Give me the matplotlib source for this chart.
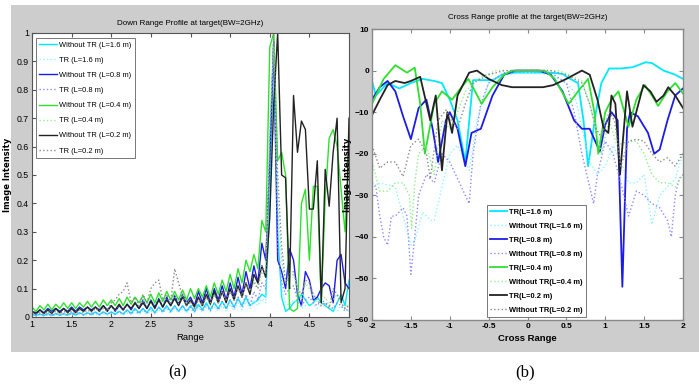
import numpy as np
import matplotlib
matplotlib.use("Agg")
import matplotlib.pyplot as plt
from matplotlib import font_manager
from matplotlib.patches import Rectangle

names = {f.name for f in font_manager.fontManager.ttflist}
NARROW = "Liberation Sans Narrow" if "Liberation Sans Narrow" in names else "Liberation Sans"
plt.rcParams['font.family'] = [NARROW, 'DejaVu Sans']

# ---------------- (a) Down range profile ----------------
range_x = np.round(np.arange(1.0, 5.0001, 0.05), 2)

wo_tr_16 = [0.010,0.005,0.010,0.005,0.012,0.005,0.012,0.006,0.012,0.006,0.015,0.006,0.015,0.008,0.015,0.008,0.018,0.008,0.018,0.010,
            0.018,0.010,0.020,0.010,0.025,0.012,0.030,0.015,0.030,0.015,0.035,0.015,0.035,0.020,0.040,0.020,0.040,0.020,0.040,0.020,
            0.040,0.020,0.045,0.025,0.050,0.025,0.050,0.030,0.055,0.030,0.060,0.035,0.065,0.040,0.070,0.040,0.050,0.060,0.080,0.070,
            0.400,0.970,0.300,0.070,0.020,0.030,0.050,0.060,0.080,0.060,0.040,0.050,0.070,0.050,0.040,0.030,0.020,0.050,0.080,0.040,0.130]
tr_16 = [0.005,0.003,0.006,0.003,0.006,0.003,0.007,0.004,0.007,0.004,0.008,0.004,0.008,0.005,0.009,0.005,0.010,0.005,0.010,0.006,
         0.012,0.006,0.013,0.007,0.015,0.008,0.017,0.009,0.020,0.010,0.022,0.010,0.025,0.012,0.027,0.013,0.030,0.015,0.030,0.015,
         0.030,0.015,0.032,0.016,0.035,0.018,0.038,0.020,0.040,0.020,0.045,0.022,0.050,0.025,0.055,0.030,0.060,0.040,0.065,0.050,
         0.500,0.950,0.350,0.100,0.050,0.040,0.060,0.050,0.030,0.040,0.050,0.045,0.030,0.040,0.050,0.035,0.030,0.020,0.040,0.030,0.020]
wo_tr_08 = [0.020,0.015,0.025,0.015,0.030,0.020,0.030,0.020,0.030,0.020,0.035,0.020,0.035,0.025,0.035,0.025,0.035,0.025,0.040,0.025,
            0.040,0.020,0.040,0.025,0.045,0.025,0.050,0.030,0.060,0.030,0.060,0.035,0.065,0.035,0.070,0.040,0.075,0.045,0.080,0.050,
            0.070,0.040,0.090,0.050,0.100,0.050,0.100,0.060,0.110,0.060,0.120,0.070,0.140,0.080,0.160,0.100,0.180,0.120,0.260,0.200,
            0.550,0.970,0.200,0.160,0.100,0.240,0.200,0.080,0.040,0.160,0.130,0.060,0.070,0.100,0.120,0.110,0.050,0.200,0.220,0.120,0.100]
tr_08 = [0.008,0.004,0.010,0.005,0.010,0.005,0.012,0.006,0.012,0.006,0.013,0.007,0.014,0.007,0.015,0.008,0.016,0.008,0.017,0.009,
         0.018,0.009,0.020,0.010,0.022,0.011,0.025,0.012,0.028,0.013,0.030,0.015,0.033,0.016,0.035,0.018,0.038,0.020,0.040,0.020,
         0.035,0.018,0.040,0.020,0.045,0.022,0.050,0.025,0.055,0.028,0.060,0.030,0.070,0.035,0.080,0.040,0.090,0.060,0.120,0.100,
         0.600,0.950,0.250,0.120,0.080,0.100,0.110,0.060,0.040,0.060,0.070,0.050,0.040,0.060,0.050,0.040,0.030,0.050,0.040,0.020,0.030]
wo_tr_04 = [0.035,0.020,0.040,0.025,0.045,0.025,0.045,0.030,0.050,0.030,0.050,0.030,0.050,0.035,0.055,0.035,0.055,0.035,0.060,0.040,
            0.060,0.040,0.065,0.040,0.070,0.045,0.070,0.050,0.075,0.050,0.080,0.050,0.085,0.055,0.090,0.060,0.090,0.060,0.095,0.060,
            0.100,0.065,0.100,0.070,0.110,0.070,0.120,0.080,0.130,0.090,0.150,0.100,0.170,0.120,0.200,0.160,0.220,0.170,0.340,0.300,
            0.950,1.000,0.550,0.580,0.500,0.030,0.020,0.030,0.400,0.450,0.200,0.460,0.460,0.050,0.420,0.630,0.660,0.600,0.450,0.300,0.600]
tr_04 = [0.020,0.010,0.020,0.010,0.025,0.012,0.025,0.012,0.030,0.015,0.030,0.015,0.030,0.015,0.035,0.020,0.035,0.020,0.040,0.020,
         0.040,0.020,0.045,0.025,0.050,0.030,0.055,0.030,0.060,0.035,0.070,0.040,0.075,0.040,0.080,0.040,0.080,0.045,0.085,0.050,
         0.060,0.030,0.065,0.035,0.070,0.040,0.080,0.050,0.090,0.050,0.100,0.060,0.110,0.070,0.120,0.080,0.130,0.100,0.160,0.140,
         0.700,0.950,0.400,0.200,0.120,0.140,0.150,0.100,0.060,0.120,0.100,0.070,0.050,0.060,0.070,0.040,0.060,0.080,0.050,0.030,0.050]
wo_tr_02 = [0.020,0.010,0.025,0.012,0.025,0.012,0.030,0.015,0.030,0.015,0.030,0.015,0.030,0.020,0.035,0.020,0.035,0.020,0.040,0.020,
            0.040,0.025,0.045,0.025,0.045,0.030,0.050,0.030,0.050,0.030,0.055,0.030,0.060,0.035,0.060,0.040,0.065,0.040,0.070,0.040,
            0.060,0.035,0.070,0.040,0.080,0.045,0.090,0.050,0.090,0.050,0.100,0.060,0.110,0.070,0.120,0.080,0.150,0.120,0.180,0.140,
            0.350,0.750,1.000,0.500,0.490,0.100,0.780,0.580,0.690,0.660,0.380,0.380,0.550,0.050,0.520,0.390,0.580,0.700,0.050,0.100,0.700]
tr_02 = [0.015,0.010,0.015,0.010,0.020,0.010,0.020,0.012,0.020,0.012,0.020,0.012,0.025,0.015,0.025,0.015,0.030,0.020,0.030,0.020,
         0.050,0.060,0.080,0.090,0.120,0.050,0.070,0.040,0.080,0.050,0.100,0.120,0.130,0.060,0.080,0.050,0.170,0.120,0.070,0.040,
         0.050,0.030,0.060,0.040,0.070,0.050,0.080,0.050,0.090,0.060,0.090,0.060,0.100,0.070,0.120,0.090,0.120,0.100,0.180,0.150,
         0.600,1.000,0.500,0.250,0.120,0.150,0.160,0.100,0.080,0.130,0.120,0.080,0.060,0.040,0.050,0.030,0.100,0.080,0.050,0.030,0.040]

labels_a = ["Without TR (L=1.6 m)", "TR (L=1.6 m)", "Without TR (L=0.8 m)", "TR (L=0.8 m)",
            "Without TR (L=0.4 m)", "TR (L=0.4 m)", "Without TR (L=0.2 m)", "TR (L=0.2 m)"]

# ---------------- (b) Cross range profile ----------------
cr_tr16_x = [-2,-1.95,-1.8,-1.65,-1.5,-1.35,-1.2,-1.1,-1.0,-0.9,-0.8,-0.7,-0.6,-0.45,-0.3,-0.15,0,0.15,0.3,0.45,0.55,0.65,0.72,0.78,0.88,0.95,1.05,1.2,1.35,1.52,1.6,1.75,1.9,2.0]
cr_tr16_y = [-2.5,-6,-3,-4.3,-3,-2,-2.5,-3,-7,-12,-22,-2.3,-2.3,-2.3,-0.8,-0.5,-0.5,-0.5,-0.5,-0.8,-2,-3,-12,-23,-10,-3,0.5,0.5,0.8,2,1.8,0,-1,-2]
cr_wo16_x = [-2,-1.9,-1.7,-1.6,-1.5,-1.45,-1.35,-1.25,-1.2,-1.1,-1.0,-0.9,-0.8,-0.75,-0.65,-0.5,-0.3,0,0.3,0.5,0.6,0.7,0.8,0.9,1.0,1.1,1.2,1.3,1.4,1.5,1.6,1.7,1.8,1.9,2.0]
cr_wo16_y = [-28,-27,-28,-35,-42,-41,-34,-36,-36,-28,-20,-18,-22,-24,-12,-3,-1,-0.5,-1,-3,-5,-14,-22,-25,-23,-18,-22,-27,-27,-25,-37,-30,-28,-26,-20]
cr_tr08_x = [-2,-1.9,-1.8,-1.7,-1.6,-1.5,-1.4,-1.3,-1.22,-1.15,-1.05,-1.0,-0.9,-0.8,-0.72,-0.6,-0.45,-0.3,-0.15,0,0.15,0.3,0.45,0.6,0.7,0.8,0.93,1.0,1.08,1.16,1.22,1.28,1.32,1.42,1.55,1.63,1.7,1.8,1.9,2.0]
cr_tr08_y = [-7,-4,-2.5,-5,-11,-16.5,-9,-7,-14,-22,-12,-10,-14,-23,-15,-14,-6,-1,0,0,0,-1,-5,-12,-14,-14,-19.5,-13,-10,-12,-52,-14,-10,-11,-15,-20,-19,-12,-6,-4.3]
cr_wo08_x = [-2,-1.95,-1.9,-1.85,-1.8,-1.75,-1.7,-1.6,-1.55,-1.5,-1.45,-1.4,-1.3,-1.2,-1.1,-1.0,-0.9,-0.8,-0.75,-0.7,-0.6,-0.5,-0.3,0,0.3,0.5,0.6,0.7,0.8,0.85,0.9,1.0,1.1,1.2,1.3,1.4,1.5,1.6,1.7,1.8,1.85,1.9,1.95,2.0]
cr_wo08_y = [-27,-28,-35,-40,-42,-35,-35,-33,-35,-49,-40,-30,-25,-27,-20,-22,-26,-30,-32,-20,-8,-3,-0.5,0,-0.5,-3,-10,-20,-28,-32,-25,-17,-20,-27,-35,-29,-30,-32,-33,-36,-40,-30,-26,-25]
cr_tr04_x = [-2,-1.85,-1.7,-1.55,-1.45,-1.38,-1.32,-1.2,-1.1,-0.97,-0.85,-0.76,-0.59,-0.45,-0.3,-0.2,0,0.22,0.35,0.53,0.65,0.78,0.86,0.91,1.0,1.08,1.17,1.3,1.4,1.51,1.6,1.68,1.8,1.9,2.0]
cr_tr04_y = [-8,-2,1.3,-0.5,0.7,-8,-20,-8,-5,-7,-4,-2,-8,-4,-1,0,0,0,-2,-8,-5,-2,-10,-20,-10,-7,-5,-13.5,-7,-3.5,-6,-8.5,-5,-3,-5.5]
cr_wo04_x = [-2,-1.9,-1.8,-1.7,-1.6,-1.52,-1.49,-1.45,-1.4,-1.3,-1.2,-1.1,-1.0,-0.9,-0.8,-0.6,-0.4,0,0.4,0.6,0.7,0.8,0.88,0.95,1.05,1.15,1.3,1.4,1.5,1.6,1.7,1.8,1.9,2.0]
cr_wo04_y = [-22,-29,-29,-27,-27,-30,-38,-27,-20,-18,-25,-12,-14,-10,-5,-1.5,0,0,0,-1.5,-2.5,-8,-14,-20,-12,-18,-17,-17,-20,-25,-27,-27,-28,-25]
cr_tr02_x = [-2,-1.9,-1.8,-1.7,-1.58,-1.5,-1.38,-1.25,-1.18,-1.1,-1.03,-0.97,-0.9,-0.75,-0.65,-0.5,-0.33,-0.2,0,0.2,0.33,0.5,0.6,0.7,0.8,0.9,0.98,1.04,1.08,1.13,1.19,1.28,1.35,1.49,1.58,1.66,1.75,1.81,1.9,2.0]
cr_tr02_y = [-10.7,-7,-3.5,-2.5,-3,-2.5,-1.5,-12,-6,-24,-10,-15,-6,-0.5,0,-2,-3.5,-4,-4,-4,-3.5,-2,-1,0,-1,-7,-14,-15,-6,-8,-25,-5,-13.5,-3.5,-5,-7.5,-6,-4,-6,-9]
cr_wo02_x = [-2,-1.9,-1.8,-1.7,-1.6,-1.5,-1.4,-1.3,-1.25,-1.15,-1.05,-0.98,-0.9,-0.8,-0.7,-0.5,-0.3,0,0.3,0.5,0.7,0.8,0.88,0.95,1.05,1.12,1.2,1.3,1.4,1.5,1.6,1.7,1.8,1.9,2.0]
cr_wo02_y = [-18,-23.5,-22,-22,-25.5,-18,-16.5,-20,-26,-12,-9.5,-12,-14,-8,-3,-1,0,0,0,-1,-3,-8,-14,-16,-10,-12,-23,-17,-16.5,-17,-20,-22,-21,-23,-20]

labels_b = ["TR(L=1.6 m)", "Without TR(L=1.6 m)", "TR(L=0.8 m)", "Without TR(L=0.8 m)",
            "TR(L=0.4 m)", "Without TR(L=0.4 m)", "TR(L=0.2 m)", "Without TR(L=0.2 m)"]

C_CYAN, C_LCYAN = "#00e8ff", "#8ff3ff"
C_BLUE, C_LBLUE = "#1c1ce8", "#8a8aff"
C_GREEN, C_LGREEN = "#2ee02e", "#8ef08e"
C_BLACK, C_GRAY = "#222222", "#8a8a8a"
PANEL = "#cdcdcd"

W, H = 699, 389
fig = plt.figure(figsize=(W/100, H/100), dpi=100)
fig.patch.set_facecolor("white")

def fx(px): return px / W
def fy(py): return 1 - py / H

# gray panel backgrounds drawn in a background axes
bg = fig.add_axes([0, 0, 1, 1], zorder=-10)
bg.set_xlim(0, W)
bg.set_ylim(H, 0)
bg.axis("off")
bg.add_patch(Rectangle((11, 5), 338, 347, facecolor=PANEL, edgecolor="none"))
bg.add_patch(Rectangle((349, 5), 350, 347, facecolor=PANEL, edgecolor="none"))

# ----- Left axes
axa = fig.add_axes([fx(32), fy(317), fx(349) - fx(32), fy(33) - fy(317)])
axa.set_facecolor("white")
series_a = [(wo_tr_16, C_CYAN, "-", 1.0), (tr_16, C_LCYAN, ":", 1.0),
            (wo_tr_08, C_BLUE, "-", 1.0), (tr_08, C_LBLUE, ":", 1.0),
            (wo_tr_04, C_GREEN, "-", 1.0), (tr_04, C_LGREEN, ":", 1.0),
            (wo_tr_02, C_BLACK, "-", 1.0), (tr_02, C_GRAY, ":", 1.0)]
for (vals, c, ls, lw), lab in zip(series_a, labels_a):
    axa.plot(range_x, vals, color=c, ls=ls, lw=lw, label=lab)
axa.set_xlim(1, 5)
axa.set_ylim(0, 1)
axa.set_xticks([1, 1.5, 2, 2.5, 3, 3.5, 4, 4.5, 5])
axa.set_xticklabels(["1", "1.5", "2", "2.5", "3", "3.5", "4", "4.5", "5"])
axa.set_yticks(np.round(np.arange(0, 1.01, 0.1), 1))
axa.set_yticklabels(["0", "0.1", "0.2", "0.3", "0.4", "0.5", "0.6", "0.7", "0.8", "0.9", "1"])
axa.tick_params(direction="in", length=3, labelsize=6.3, pad=2, top=True, right=False, color="#555555")
for s in axa.spines.values():
    s.set_color("#555555")
    s.set_linewidth(0.8)
axa.set_title("Down Range Profile at target(BW=2GHz)", fontsize=5.8, pad=6)
axa.set_xlabel("Range", fontsize=6.8, labelpad=3)
axa.set_ylabel("Image Intensity", fontsize=6.0, fontweight="bold", family="DejaVu Sans")
leg = axa.legend(loc="upper left", handlelength=2.4, handletextpad=0.3,
                 labelspacing=1.05, borderpad=0.45, fancybox=False, framealpha=1,
                 bbox_to_anchor=(0.012, 0.982), borderaxespad=0, prop={"size": 5.4})
leg.get_frame().set_edgecolor("#777777")
leg.get_frame().set_linewidth(0.7)

# ----- Right axes
axb = fig.add_axes([fx(372), fy(320), fx(683) - fx(372), fy(29) - fy(320)])
axb.set_facecolor("white")
series_b = [(cr_tr16_x, cr_tr16_y, C_CYAN, "-", 1.3), (cr_wo16_x, cr_wo16_y, C_LCYAN, ":", 1.0),
            (cr_tr08_x, cr_tr08_y, C_BLUE, "-", 1.3), (cr_wo08_x, cr_wo08_y, C_LBLUE, ":", 1.0),
            (cr_tr04_x, cr_tr04_y, C_GREEN, "-", 1.3), (cr_wo04_x, cr_wo04_y, C_LGREEN, ":", 1.0),
            (cr_tr02_x, cr_tr02_y, C_BLACK, "-", 1.3), (cr_wo02_x, cr_wo02_y, C_GRAY, ":", 1.0)]
for (xs, ys, c, ls, lw), lab in zip(series_b, labels_b):
    axb.plot(xs, ys, color=c, ls=ls, lw=lw, label=lab)
axb.set_xlim(-2, 2)
axb.set_ylim(-60, 10)
axb.set_xticks([-2, -1.5, -1, -0.5, 0, 0.5, 1, 1.5, 2])
axb.set_xticklabels(["-2", "-1.5", "-1", "-0.5", "0", "0.5", "1", "1.5", "2"])
axb.set_yticks([-60, -50, -40, -30, -20, -10, 0, 10])
axb.tick_params(direction="in", length=3, labelsize=6.0, pad=2, top=True, right=True, color="#888888")
for lab in axb.get_xticklabels() + axb.get_yticklabels():
    lab.set_fontweight("bold")
for s in axb.spines.values():
    s.set_color("#8a8a8a")
    s.set_linewidth(1.0)
axb.set_title("Cross Range profile at the target(BW=2GHz)", fontsize=5.8, pad=7)
axb.set_xlabel("Cross Range", fontsize=6.8, fontweight="bold", labelpad=3)
axb.set_ylabel("Image Intensity", fontsize=6.0, fontweight="bold", family="DejaVu Sans")
legb = axb.legend(loc="lower left", bbox_to_anchor=(0.37, 0.01), borderaxespad=0,
                  handlelength=2.2, handletextpad=0.3, labelspacing=0.9,
                  borderpad=0.45, fancybox=False, framealpha=1, prop={"weight": "bold", "size": 5.4})
legb.get_frame().set_edgecolor("#777777")
legb.get_frame().set_linewidth(0.7)

# place y labels at fixed figure positions (label centre x, in pixels)
axa.yaxis.set_label_coords((12 - 32) / (349 - 32), 0.5)
axb.yaxis.set_label_coords((352 - 372) / (683 - 372), 0.5)

fig.text(fx(178), fy(372), "(a)", fontsize=12, family="Liberation Serif", ha="center", va="center")
fig.text(fx(525), fy(372), "(b)", fontsize=12, family="Liberation Serif", ha="center", va="center")

fig.savefig("out.png", dpi=100)
